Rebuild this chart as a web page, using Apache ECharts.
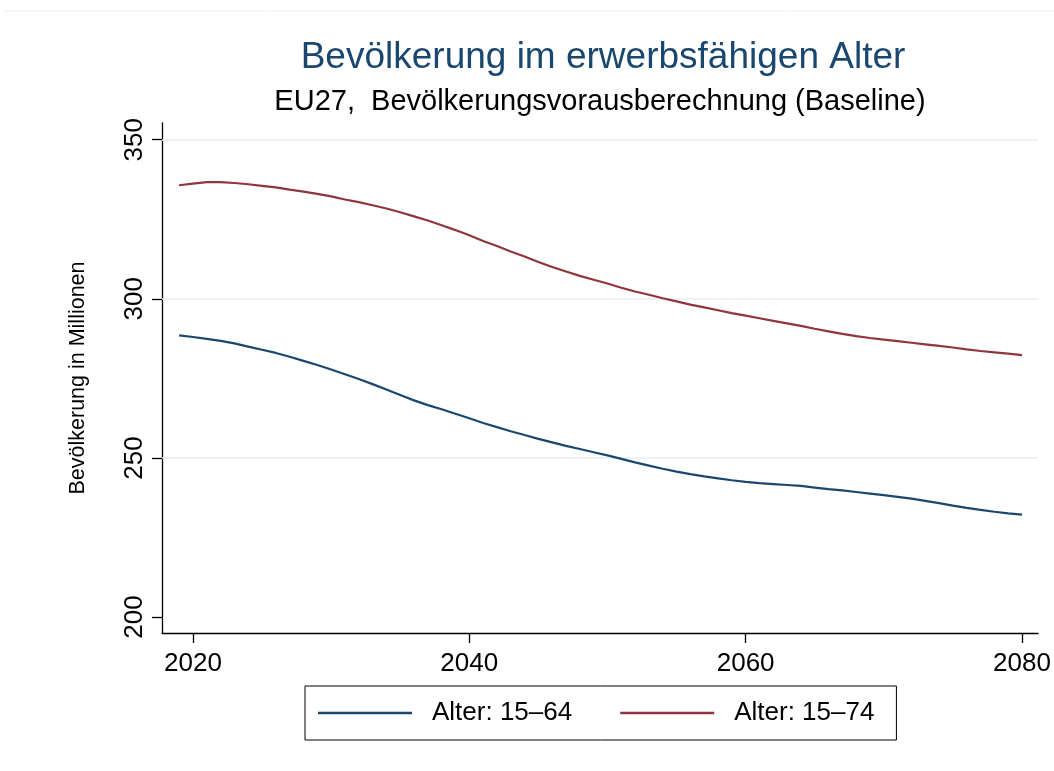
<!DOCTYPE html>
<html>
<head>
<meta charset="utf-8">
<script src="https://cdn.jsdelivr.net/npm/echarts@6/dist/echarts.min.js"></script>
<style>
html,body{margin:0;padding:0;background:#fff;}
#chart{width:1054px;height:771px;}
</style>
</head>
<body>
<div id="chart"></div>
<script>
const years = [];
for (let y = 2019; y <= 2080; y++) years.push(y);

const alter1564 = [
  288.5, 288.0, 287.4, 286.8, 286.0, 285.0, 284.0, 283.0, 281.8, 280.5,
  279.2, 277.8, 276.3, 274.8, 273.2, 271.5, 269.8, 268.1, 266.6, 265.3,
  263.9, 262.5, 261.0, 259.7, 258.4, 257.2, 256.0, 254.9, 253.8, 252.8,
  251.8, 250.8, 249.7, 248.6, 247.6, 246.6, 245.7, 244.9, 244.2, 243.6,
  243.0, 242.5, 242.1, 241.8, 241.5, 241.2, 240.7, 240.2, 239.8, 239.3,
  238.8, 238.3, 237.8, 237.2, 236.5, 235.8, 235.0, 234.3, 233.7, 233.1,
  232.6, 232.2
];
const alter1574 = [
  335.7, 336.2, 336.7, 336.7, 336.4, 336.0, 335.5, 335.0, 334.3, 333.7,
  333.0, 332.2, 331.2, 330.4, 329.4, 328.4, 327.2, 325.9, 324.6, 323.1,
  321.6, 320.0, 318.2, 316.6, 314.9, 313.3, 311.6, 310.0, 308.6, 307.2,
  306.0, 304.8, 303.5, 302.3, 301.3, 300.2, 299.2, 298.2, 297.3, 296.4,
  295.5, 294.7, 293.9, 293.1, 292.3, 291.5, 290.6, 289.8, 289.0, 288.3,
  287.7, 287.2, 286.7, 286.2, 285.7, 285.2, 284.7, 284.1, 283.6, 283.2,
  282.8, 282.3
];
const xTicks = [2020, 2040, 2060, 2080];
const yTicks = [200, 250, 300, 350];
const yGrid = [250, 300, 350];
const seriesNames = ['Alter: 15\u201364', 'Alter: 15\u201374'];

const FONT = '"Liberation Sans", Arial, sans-serif';
const chart = echarts.init(document.getElementById('chart'), null, {renderer: 'canvas'});

chart.setOption({
  animation: false,
  backgroundColor: '#ffffff',
  title: [
    {
      text: 'Bevölkerung im erwerbsfähigen Alter',
      left: 603, top: 39, textAlign: 'center', padding: 0,
      textStyle: {fontFamily: FONT, fontSize: 37, fontWeight: 'normal', color: '#1a476f'}
    },
    {
      text: 'EU27,  Bevölkerungsvorausberechnung (Baseline)',
      left: 600, top: 87, textAlign: 'center', padding: 0,
      textStyle: {fontFamily: FONT, fontSize: 29, fontWeight: 'normal', color: '#000000'}
    }
  ],
  graphic: [
    {type: 'line', shape: {x1: 4, y1: 11, x2: 1054, y2: 11}, style: {stroke: '#eeeeee', lineWidth: 1}, silent: true}
  ],
  legend: {
    left: 305, top: 686,
    padding: [14, 22, 14, 13],
    borderColor: '#000000', borderWidth: 1,
    icon: 'rect',
    itemWidth: 94, itemHeight: 2.5, itemGap: 48,
    textStyle: {fontFamily: FONT, fontSize: 26, color: '#000000', padding: [0, 0, 0, 15]},
    data: seriesNames
  },
  grid: {left: 162, right: 16, top: 123, bottom: 138, containLabel: false},
  xAxis: {
    type: 'value', min: 2017.76, max: 2081.16,
    axisLine: {show: true, lineStyle: {color: '#000000', width: 1.3}},
    axisTick: {show: true, length: 10, lineStyle: {color: '#000000', width: 1.3}, customValues: xTicks},
    axisLabel: {customValues: xTicks, formatter: v => String(v), fontFamily: FONT, fontSize: 26, color: '#000000', margin: 18},
    splitLine: {show: false}
  },
  yAxis: {
    type: 'value', min: 195, max: 355.25,
    name: 'Bevölkerung in Millionen', nameLocation: 'middle', nameGap: 73, nameRotate: 90,
    nameTextStyle: {fontFamily: FONT, fontSize: 21.5, color: '#000000'},
    axisLine: {show: true, lineStyle: {color: '#000000', width: 1.3}},
    axisTick: {show: true, length: 10, lineStyle: {color: '#000000', width: 1.3}, customValues: yTicks},
    axisLabel: {customValues: yTicks, formatter: v => String(v), rotate: 90, fontFamily: FONT, fontSize: 26, color: '#000000', margin: 14},
    splitLine: {show: false}
  },
  series: [
    {
      name: seriesNames[0], type: 'line', symbol: 'none', smooth: false,
      data: years.map((y, i) => [y, alter1564[i]]),
      lineStyle: {color: '#1a476f', width: 2.2}, itemStyle: {color: '#1a476f'},
      z: 3,
      markLine: {
        silent: true, symbol: 'none', label: {show: false},
        lineStyle: {color: '#e6eef2', width: 1.5, type: 'solid'},
        data: yGrid.map(v => ({yAxis: v})),
        z: 1
      }
    },
    {
      name: seriesNames[1], type: 'line', symbol: 'none', smooth: false,
      data: years.map((y, i) => [y, alter1574[i]]),
      lineStyle: {color: '#90353b', width: 2.2}, itemStyle: {color: '#90353b'},
      z: 3
    }
  ]
});
</script>
</body>
</html>
